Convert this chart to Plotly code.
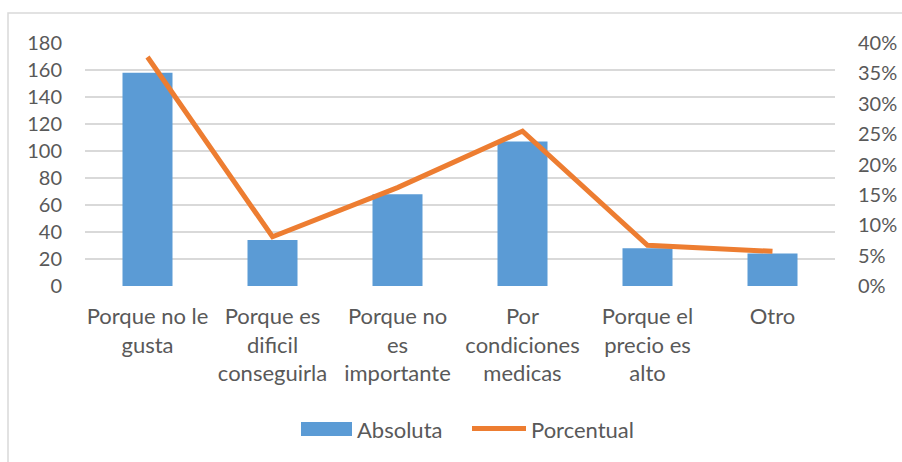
import plotly.graph_objects as go

categories = [
    "Porque no le<br>gusta",
    "Porque es<br>dificil<br>conseguirla",
    "Porque no<br>es<br>importante",
    "Por<br>condiciones<br>medicas",
    "Porque el<br>precio es<br>alto",
    "Otro",
]
absoluta = [158, 34, 68, 107, 28, 24]
porcentual = [0.377, 0.081, 0.162, 0.255, 0.067, 0.057]
left_ticks = [0, 20, 40, 60, 80, 100, 120, 140, 160, 180]
right_ticks = [0, 0.05, 0.10, 0.15, 0.20, 0.25, 0.30, 0.35, 0.40]
legend_names = ["Absoluta", "Porcentual"]

FONT = "Lato"
TXT = "#595959"
GRID = "#d9d9d9"
BLUE = "#5B9BD5"
ORANGE = "#ED7D31"

# plot area in pixels: x 85..835, y 43..286
L, R, T, B = 85, 835, 43, 286
W, H = 902, 462


def px(xp):
    return (xp - L) / (R - L)


def py(yp):
    return (B - yp) / (B - T)


fig = go.Figure()
fig.add_trace(go.Bar(
    x=categories, y=absoluta, name=legend_names[0],
    marker=dict(color=BLUE, line=dict(width=0)),
    yaxis="y", showlegend=False,
))
fig.add_trace(go.Scatter(
    x=categories, y=porcentual, name=legend_names[1],
    mode="lines", line=dict(color=ORANGE, width=5),
    yaxis="y2", showlegend=False,
))

shapes = [
    # chart border
    dict(type="rect", xref="paper", yref="paper",
         x0=px(8), x1=px(910), y0=py(470), y1=py(13),
         line=dict(color="#d9d9d9", width=1.5), fillcolor="rgba(0,0,0,0)",
         layer="below"),
    # legend symbols
    dict(type="rect", xref="paper", yref="paper",
         x0=px(301), x1=px(352), y0=py(436), y1=py(422),
         line=dict(width=0), fillcolor=BLUE),
    dict(type="line", xref="paper", yref="paper",
         x0=px(472), x1=px(526), y0=py(428.5), y1=py(428.5),
         line=dict(color=ORANGE, width=5)),
]
annotations = [
    dict(xref="paper", yref="paper", x=px(355), y=py(429), text=legend_names[0],
         showarrow=False, xanchor="left", yanchor="middle",
         font=dict(family=FONT, size=22, color=TXT)),
    dict(xref="paper", yref="paper", x=px(529), y=py(429), text=legend_names[1],
         showarrow=False, xanchor="left", yanchor="middle",
         font=dict(family=FONT, size=22, color=TXT)),
]

fig.update_layout(
    width=W, height=H,
    margin=dict(l=L, r=W - R, t=T, b=H - B, autoexpand=False),
    paper_bgcolor="white", plot_bgcolor="white",
    font=dict(family=FONT, size=20, color=TXT),
    bargap=0.6,
    showlegend=False,
    xaxis=dict(showgrid=False, zeroline=False, showline=False, tickangle=0,
               ticks="", ticklabelstandoff=15, automargin=False,
               tickfont=dict(family=FONT, size=22, color=TXT)),
    yaxis=dict(range=[0, 180], tickvals=left_ticks, showgrid=True, gridcolor=GRID,
               gridwidth=1.5, zeroline=False, showline=False, ticks="",
               ticklabelstandoff=22, automargin=False,
               tickfont=dict(family=FONT, size=20, color=TXT)),
    yaxis2=dict(range=[0, 0.4], tickvals=right_ticks, tickformat=".0%",
                overlaying="y", side="right", showgrid=False, zeroline=False,
                showline=False, ticks="", ticklabelstandoff=22, automargin=False,
                tickfont=dict(family=FONT, size=20, color=TXT)),
    shapes=shapes,
    annotations=annotations,
)

fig.write_html(
    "out.html",
    config={"displayModeBar": False},
    post_script="document.body.style.margin='0';document.body.style.overflow='hidden';",
)
